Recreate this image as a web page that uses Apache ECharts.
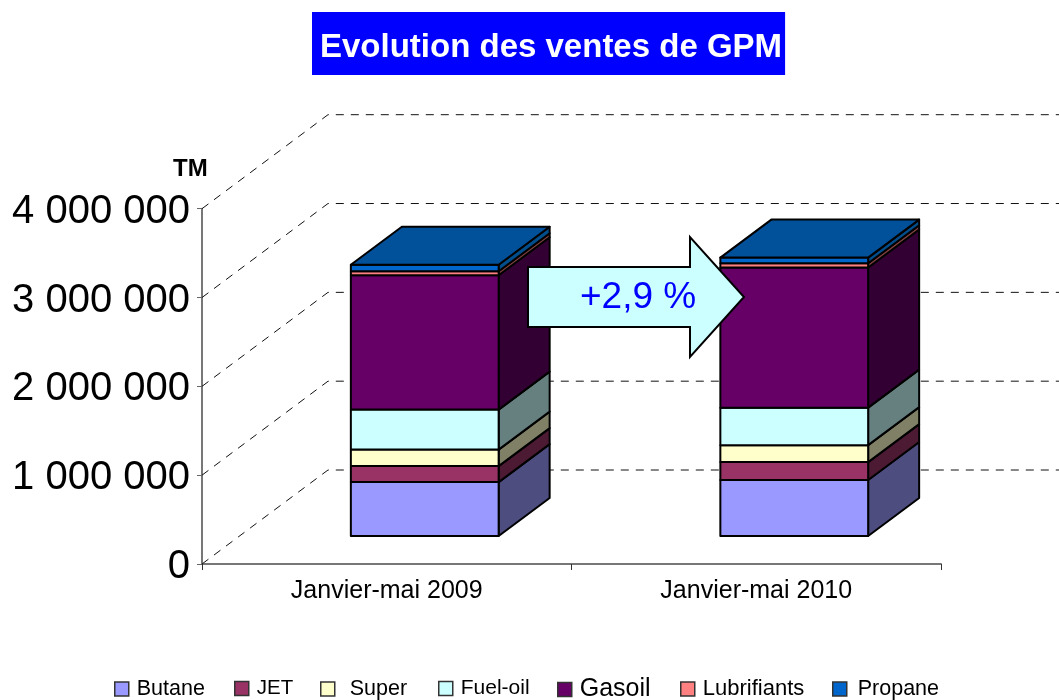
<!DOCTYPE html>
<html><head><meta charset="utf-8">
<style>html,body{margin:0;padding:0;background:#fff}#c{width:1059px;height:700px}</style>
<script src="https://cdn.jsdelivr.net/npm/echarts@6/dist/echarts.min.js"></script>
</head><body><div id="c"></div>
<script>
// ---- data (tonnes) ----
const categories = ['Janvier-mai 2009', 'Janvier-mai 2010'];
const butane      = [607000, 630000];
const jet         = [180000, 202000];
const superFuel   = [186000, 191000];
const fuelOil     = [450000, 422000];
const gasoil      = [1513000, 1577000];
const lubrifiants = [45000, 48000];
const propane     = [73000, 64000];
const yTicks = [0, 1000000, 2000000, 3000000, 4000000];

const stackOrder = [
  {name:'Butane', values:butane, front:'#9999ff', side:'#4d4d80', legendLeft:114, legendTop:678, pad:3, size:21.5},
  {name:'JET', values:jet, front:'#993366', side:'#4d1a33', legendLeft:234, legendTop:678, pad:3, size:20.5},
  {name:'Super', values:superFuel, front:'#ffffcc', side:'#808066', legendLeft:320, legendTop:678, pad:10, size:21.5},
  {name:'Fuel-oil', values:fuelOil, front:'#ccffff', side:'#668080', legendLeft:438, legendTop:678, pad:3, size:21},
  {name:'Gasoil', values:gasoil, front:'#660066', side:'#330033', legendLeft:557, legendTop:677, pad:3, size:25},
  {name:'Lubrifiants', values:lubrifiants, front:'#ff8080', side:'#804040', legendLeft:680, legendTop:678, pad:3, size:22},
  {name:'Propane', values:propane, front:'#0066cc', side:'#004d8c', top:'#00509a', legendLeft:832, legendTop:678, pad:6, size:21.5}
];

// oblique projection of the 3D frame
const WALL_DX = 126, WALL_DY = -94;      // axis plane -> back wall
const BAR_DX = 38, BAR_DY = -28;         // axis plane -> bar front face
const BAR_DEPTH_DX = 51, BAR_DEPTH_DY = -38;
const BAR_RATIO = 0.8;
const FONT = '"Liberation Sans", Arial, sans-serif';
const EDGE = {stroke:'#000', lineWidth:2, lineJoin:'round'};

function wallRender(params, api){
  const p = api.coord([0, api.value(0)]);
  const left = params.coordSys.x;
  const right = params.coordSys.x + params.coordSys.width;
  return {
    type:'polyline', silent:true,
    shape:{points:[[left,p[1]],[left+WALL_DX,p[1]+WALL_DY],[right+WALL_DX,p[1]+WALL_DY]]},
    style:{fill:null, stroke:'#111', lineWidth:1, lineDash:[8,7]}
  };
}

function barRender(item){
  return function(params, api){
    const idx = api.value(0);
    const lo = api.coord([idx, api.value(1)]);
    const hi = api.coord([idx, api.value(2)]);
    const w = api.size([1,0])[0] * BAR_RATIO / 2;
    const x0 = lo[0] - w/2 + BAR_DX, x1 = x0 + w;
    const yl = lo[1] + BAR_DY, yh = hi[1] + BAR_DY;
    const kids = [
      {type:'polygon', shape:{points:[[x1,yl],[x1+BAR_DEPTH_DX,yl+BAR_DEPTH_DY],[x1+BAR_DEPTH_DX,yh+BAR_DEPTH_DY],[x1,yh]]},
        style:Object.assign({fill:item.side},EDGE)},
      {type:'rect', shape:{x:x0,y:yh,width:w,height:yl-yh},
        style:Object.assign({fill:item.front},EDGE)}
    ];
    if(item.top){
      kids.push({type:'polygon', shape:{points:[[x0,yh],[x1,yh],[x1+BAR_DEPTH_DX,yh+BAR_DEPTH_DY],[x0+BAR_DEPTH_DX,yh+BAR_DEPTH_DY]]},
        style:Object.assign({fill:item.top},EDGE)});
    }
    return {type:'group', children:kids};
  };
}

const running = categories.map(()=>0);
const barSeries = stackOrder.map(function(item){
  const data = item.values.map(function(v,i){
    const low = running[i]; running[i] += v;
    return [i, low, running[i]];
  });
  return {
    name:item.name, type:'custom', coordinateSystem:'cartesian2d',
    encode:{x:0,y:[1,2]}, data:data, renderItem:barRender(item), clip:false, z:3,
    itemStyle:{color:item.front}
  };
});

const legends = stackOrder.map(function(item){
  return {
    left:item.legendLeft, top:item.legendTop, padding:0, itemWidth:14, itemHeight:14, itemGap:0, selectedMode:false,
    data:[{name:item.name, icon:'rect',
      itemStyle:{color:item.front, borderColor:'#333', borderWidth:1.5},
      textStyle:{fontFamily:FONT, fontSize:item.size, lineHeight:14, color:'#000', padding:[0,0,0,item.pad]}}]
  };
});

const option = {
  animation:false,
  backgroundColor:'#fff',
  title:{
    text:'Evolution des ventes de GPM', left:312, top:12,
    backgroundColor:'#0000ff', padding:[18,3,10,8],
    textStyle:{color:'#fff', fontFamily:FONT, fontSize:33, fontWeight:'bold', lineHeight:35}
  },
  legend:legends,
  grid:{left:202, right:118, top:208.7, bottom:136, containLabel:false},
  xAxis:{
    type:'category', data:categories, boundaryGap:true,
    axisLine:{lineStyle:{color:'#777',width:2}},
    axisTick:{show:true, length:6, lineStyle:{color:'#333',width:1}},
    axisLabel:{fontFamily:FONT, fontSize:25, color:'#000', margin:15},
    splitLine:{show:false}
  },
  yAxis:{
    type:'value', min:0, max:4000000, interval:1000000,
    axisLine:{show:true, lineStyle:{color:'#777',width:2}},
    axisTick:{show:true, length:5, lineStyle:{color:'#666',width:1}},
    axisLabel:{margin:12,
      rich:{n:{fontFamily:FONT, fontSize:40, color:'#000', padding:[6,0,0,0]}},
      formatter:function(v){return '{n|'+String(v).replace(/\B(?=(\d{3})+$)/g,' ')+'}';}},
    splitLine:{show:false}
  },
  series:[{
    name:'grille', type:'custom', coordinateSystem:'cartesian2d', silent:true,
    encode:{y:0}, data:yTicks.map(v=>[v]), renderItem:wallRender, clip:false, z:1
  }].concat(barSeries),
  graphic:[
    {type:'text', z:50, left:173, top:157, style:{text:'TM', font:'bold 24px '+FONT, fill:'#000'}},
    {type:'polygon', z:60, silent:true,
      shape:{points:[[528,267],[690,267],[690,237],[744,297],[690,357],[690,327],[528,327]]},
      style:{fill:'#ccffff', stroke:'#000', lineWidth:2}},
    {type:'text', z:61, left:580, top:279, silent:true, style:{text:'+2,9 %', font:'37px '+FONT, fill:'#0000ff'}}
  ]
};
const chart = echarts.init(document.getElementById('c'), null, {renderer:'canvas', width:1059, height:700});
chart.setOption(option);
</script></body></html>
